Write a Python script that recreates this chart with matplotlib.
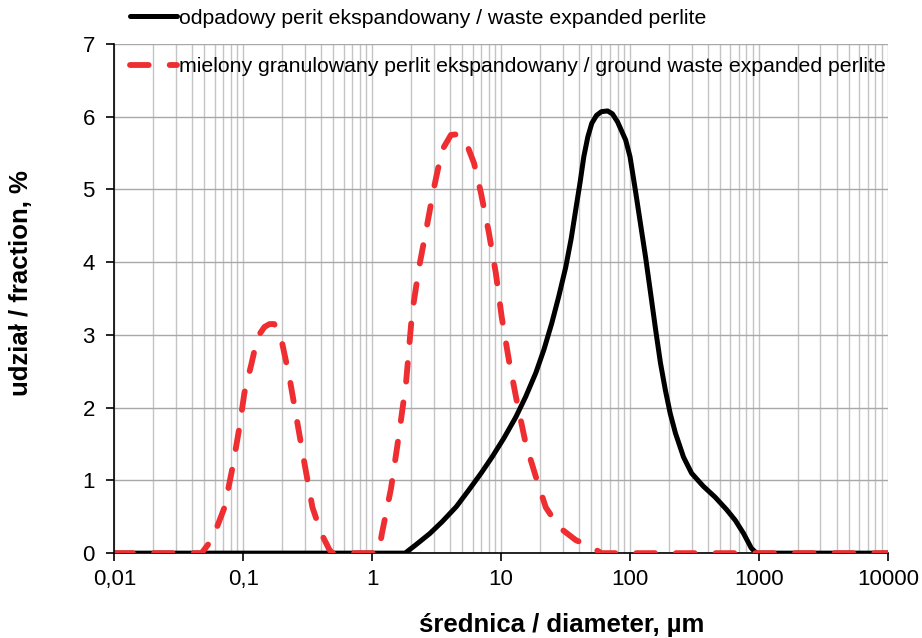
import numpy as np
import matplotlib
matplotlib.use("Agg")
from matplotlib import pyplot as plt
from matplotlib.ticker import LogLocator, FuncFormatter, NullFormatter

plt.rcParams['font.family'] = ['Liberation Sans', 'DejaVu Sans']

# ======================data======================
# waste expanded perlite (solid black)
d_waste = [0.01, 1.8, 2.2, 2.8, 3.48, 4.5, 5.63, 7.0, 8.5, 10.5, 13.0, 15.5, 18.6, 21.5,
           24.7, 28.0, 31.7, 35.0, 37.9, 41.0, 43.8, 47.0, 50.5, 55.0, 60.0, 67.0, 73.0,
           80.0, 92.5, 100, 110, 120, 132, 145, 158, 172, 188, 205, 225, 260, 300, 370,
           457, 560, 656, 760, 872, 955, 10000]
f_waste = [0, 0, 0.12, 0.27, 0.43, 0.64, 0.87, 1.10, 1.32, 1.58, 1.87, 2.15, 2.48, 2.80,
           3.16, 3.53, 3.93, 4.33, 4.72, 5.10, 5.45, 5.72, 5.91, 6.02, 6.07, 6.08, 6.04,
           5.93, 5.68, 5.45, 4.99, 4.55, 4.07, 3.55, 3.07, 2.62, 2.24, 1.92, 1.65, 1.32, 1.10, 0.92,
           0.77, 0.60, 0.45, 0.27, 0.07, 0, 0]

# ground waste expanded perlite (red dashed)
d_ground = [0.01, 0.0475, 0.0578, 0.0716, 0.0826, 0.0934, 0.102, 0.116, 0.129, 0.146, 0.16,
            0.174, 0.198, 0.228, 0.263, 0.298, 0.344, 0.403, 0.465, 0.49,
            1.12, 1.19, 1.40, 1.62, 1.83, 2.04, 2.31, 2.62, 3.02, 3.48, 4.08, 4.6, 5.34, 6.17,
            6.98, 8.05, 9.1, 10.1, 11.5, 13.2, 15.5, 18.6, 22.2, 28.0, 37.9, 50.5, 60.0, 10000]
f_ground = [0, 0, 0.2, 0.63, 1.18, 1.73, 2.2, 2.61, 2.97, 3.11, 3.15,
            3.15, 2.93, 2.42, 1.79, 1.24, 0.63, 0.27, 0.05, 0,
            0, 0.27, 0.89, 1.65, 2.34, 3.30, 3.93, 4.44, 5.03, 5.54, 5.75, 5.76, 5.65, 5.36,
            4.95, 4.40, 3.85, 3.25, 2.65, 2.10, 1.51, 1.05, 0.63, 0.36, 0.18, 0.08, 0, 0]

xticks = [0.01, 0.1, 1, 10, 100, 1000, 10000]
yticks = [0, 1, 2, 3, 4, 5, 6, 7]

label_waste = 'odpadowy perit ekspandowany / waste expanded perlite'
label_ground = 'mielony granulowany perlit ekspandowany / ground waste expanded perlite'

# ======================plot======================
fig = plt.figure(figsize=(9.22, 6.38), dpi=100)
ax = fig.add_axes([0.124, 0.133, 0.839, 0.798])

ax.plot(d_waste, f_waste, color='black', lw=3.6, solid_capstyle='round',
        solid_joinstyle='round', label=label_waste, zorder=3)
ax.plot(d_ground, f_ground, color='#ee2e31', lw=4.2, dashes=(3.2, 3.6),
        dash_capstyle='round', label=label_ground, zorder=4)

ax.set_xscale('log')
ax.set_xlim(0.01, 10000)
ax.set_ylim(0, 7)
ax.set_xticks(xticks)
ax.set_yticks(yticks)
ax.xaxis.set_minor_locator(LogLocator(base=10, subs=np.arange(2, 10), numticks=20))
ax.xaxis.set_minor_formatter(NullFormatter())
ax.xaxis.set_major_formatter(FuncFormatter(lambda v, p: ('%g' % v).replace('.', ',')))

ax.grid(True, axis='x', which='both', color='#c4c4c4', lw=1.0, zorder=0)
ax.grid(True, axis='y', which='major', color='#a8a8a8', lw=1.0, zorder=0)
ax.axhspan(6.42, 7.0, color='white', zorder=1)

for s in ['top', 'right']:
    ax.spines[s].set_visible(False)
ax.spines['left'].set_linewidth(1.2)
ax.spines['bottom'].set_linewidth(1.2)
ax.spines['left'].set_zorder(5)

ax.tick_params(axis='both', which='major', direction='out', length=5.5, width=1.2, labelsize=16)
ax.tick_params(axis='x', which='minor', length=0)
ax.tick_params(axis='x', pad=6)
ax.tick_params(axis='y', pad=8.5)

ax.set_xlabel('średnica / diameter, µm', fontsize=18.5, fontweight='bold')
ax.set_ylabel('udział / fraction, %', fontsize=18.5, fontweight='bold')
ax.xaxis.set_label_coords(0.578, -0.118)
ax.yaxis.set_label_coords(-0.105, 0.53)

fig.legend(loc='upper left', bbox_to_anchor=(0.141, 0.986), frameon=False, fontsize=15.3,
           handlelength=2.2, handletextpad=0.1, labelspacing=1.38, borderpad=0, borderaxespad=0)

fig.savefig('out.png', dpi=100)
